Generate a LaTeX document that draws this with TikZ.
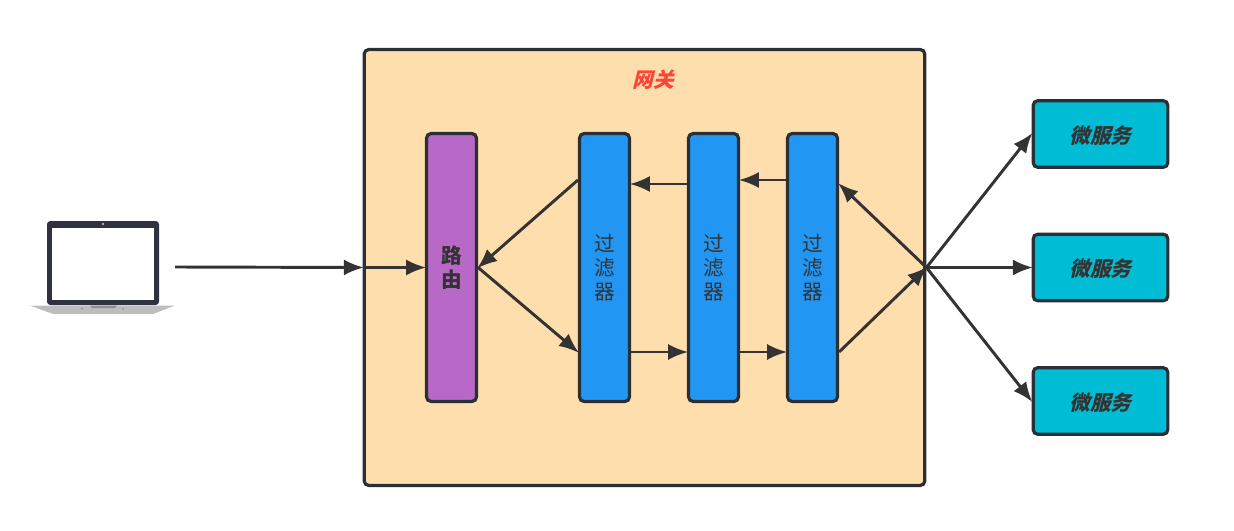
\documentclass[tikz,border=0pt]{standalone}
\usepackage{fontspec}
\usetikzlibrary{arrows.meta}
\setmainfont{Noto Sans CJK SC}
\newfontfamily\slantfont[FakeSlant=0.25,BoldFeatures={FakeSlant=0.25}]{Noto Sans CJK SC}
\definecolor{edgedark}{HTML}{2A2F36}
\definecolor{linedark}{HTML}{333333}
\definecolor{gatefill}{HTML}{FFDEAD}
\definecolor{routefill}{HTML}{B868C6}
\definecolor{filterfill}{HTML}{2196F3}
\definecolor{servicefill}{HTML}{00BCD4}
\definecolor{gatered}{HTML}{FF4436}
\definecolor{lidgrey}{HTML}{30333F}
\definecolor{basegrey}{HTML}{BDBDBD}
\tikzset{
	box/.style={draw=edgedark,line width=2.4pt,rounded corners=3.5pt,inner sep=0pt,text=linedark,align=center,font=\fontsize{15.5}{18}\selectfont},
	gatebox/.style={box,fill=gatefill,minimum width=420.5pt,minimum height=327pt},
	barbox/.style={box,minimum width=37.5pt,minimum height=201pt},
	servicebox/.style={box,fill=servicefill,minimum width=101pt,minimum height=50pt},
	servicetext/.style={text=linedark,font=\fontsize{15.5}{18}\selectfont\bfseries\slantfont},
	link/.style={draw=linedark,line width=2.2pt,-{Latex[length=15pt,width=12pt]},shorten >=-1pt}
}
\begin{document}
\begin{tikzpicture}[x=0.75pt,y=-0.75pt]
	\useasboundingbox (0,0) rectangle (1234,531);
	\node [gatebox] (gateway) at (644.5,267.5) {};
	\node [text=gatered,font=\fontsize{15.5}{18}\selectfont\bfseries\slantfont] (gatelabel) at (653,80) {网关};
	\node [barbox,fill=routefill,font=\fontsize{15.5}{18}\selectfont\bfseries] (route) at (451.5,267.5) {路\\由};
	\node [barbox,fill=filterfill] (filterA) at (604.5,267.5) {过\\滤\\器};
	\node [barbox,fill=filterfill] (filterB) at (713.5,267.5) {过\\滤\\器};
	\node [barbox,fill=filterfill] (filterC) at (812.5,267.5) {过\\滤\\器};
	\node [servicebox] (serviceA) at (1100.5,134) {};
	\node [servicebox] (serviceB) at (1100.5,267.5) {};
	\node [servicebox] (serviceC) at (1100.5,401) {};
	\node [servicetext] (labelA) at (1100.5,136) {微服务};
	\node [servicetext] (labelB) at (1100.5,268.5) {微服务};
	\node [servicetext] (labelC) at (1100.5,402.5) {微服务};
	% laptop
	\fill [lidgrey,rounded corners=2.5pt] (47,305) -- (47,221) -- (159,221) -- (159,305) -- cycle;
	\fill [white] (51.5,227.5) rectangle (153.5,300);
	\fill [basegrey!60!white] (103,224) circle (1.2);
	\fill [basegrey] (30,305.5) -- (175,305.5) -- (153,314) -- (53,314) -- cycle;
	\fill [basegrey!75!black] (90,305.5) -- (117,305.5) -- (115,308) -- (92,308) -- cycle;
	\fill [basegrey!75!black] (82,308.5) circle (1);
	\fill [basegrey!75!black] (123,308.5) circle (1);
	\coordinate (laptop) at (175,267);
	% rows used by the links between the bars
	\coordinate (rowA) at (0,180);
	\coordinate (rowB) at (0,184);
	\coordinate (rowC) at (0,352);
	% links
	\draw [link] (laptop) -- (gateway.west);
	\draw [link] (gateway.west) -- (route.west);
	\draw [link] (filterA.west |- rowA) -- (route.east);
	\draw [link] (route.east) -- (filterA.west |- rowC);
	\draw [link] (filterA.east |- rowC) -- (filterB.west |- rowC);
	\draw [link] (filterB.east |- rowC) -- (filterC.west |- rowC);
	\draw [link] (filterC.east |- rowC) -- (gateway.east);
	\draw [link] (gateway.east) -- (filterC.east |- rowB);
	\draw [link] (filterC.west |- rowA) -- (filterB.east |- rowA);
	\draw [link] (filterB.west |- rowB) -- (filterA.east |- rowB);
	\draw [link] (gateway.east) -- (serviceA.west);
	\draw [link] (gateway.east) -- (serviceB.west);
	\draw [link] (gateway.east) -- (serviceC.west);
\end{tikzpicture}
\end{document}
